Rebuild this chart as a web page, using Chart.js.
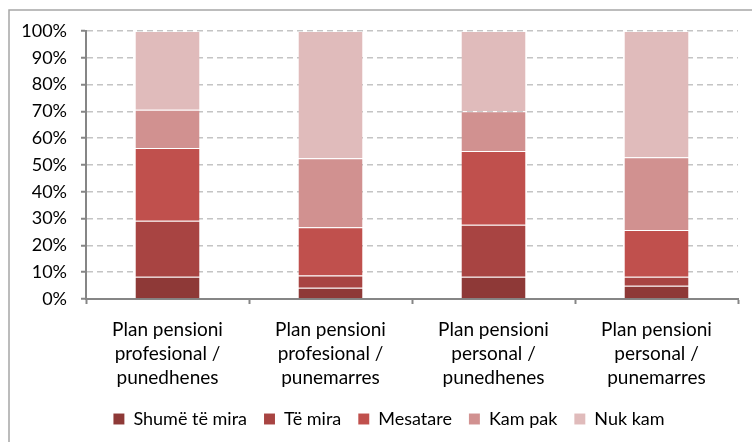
<!DOCTYPE html>
<html>
<head>
<meta charset="utf-8">
<script src="https://cdn.jsdelivr.net/npm/chart.js@4"></script>
<style>
  html, body { margin: 0; padding: 0; background: #fff; }
  #wrap { width: 752px; height: 442px; }
</style>
</head>
<body>
<div id="wrap"><canvas id="grafico" width="752" height="442"></canvas></div>
<script>
const categories = [
    ['Plan pensioni', 'profesional /', 'punedhenes'],
    ['Plan pensioni', 'profesional /', 'punemarres'],
    ['Plan pensioni', 'personal /', 'punedhenes'],
    ['Plan pensioni', 'personal /', 'punemarres']
];
const seriesNames = ['Shumë të mira', 'Të mira', 'Mesatare', 'Kam pak', 'Nuk kam'];
const shumeTeMira = [8.3, 4.2, 8.3, 4.9];
const teMira      = [20.9, 4.6, 19.4, 3.4];
const mesatare    = [27.1, 18.0, 27.5, 17.4];
const kamPak      = [14.3, 25.7, 14.9, 27.2];
const nukKam      = [29.4, 47.5, 29.9, 47.1];
const yTicks = [0, 10, 20, 30, 40, 50, 60, 70, 80, 90, 100];

const colores = ['#8e3937', '#a84442', '#c0504d', '#d19190', '#e0bbbb'];
const valores = [shumeTeMira, teMira, mesatare, kamPak, nukKam];

const FONT = 'Lato, "Open Sans", sans-serif';
const PAD_BOTTOM = 4;

// marco exterior (solo arriba e izquierda, como en el original)
const marco = {
    id: 'marco',
    beforeDraw(chart) {
        const c = chart.ctx;
        c.save();
        c.strokeStyle = '#a6a6a6';
        c.lineWidth = 1.5;
        c.beginPath();
        c.moveTo(9, chart.height + 5);
        c.lineTo(9, 10);
        c.lineTo(chart.width + 5, 10);
        c.stroke();
        c.restore();
    }
};

// la leyenda del original esta algo desplazada a la derecha
const moverLeyenda = {
    id: 'moverLeyenda',
    afterLayout(chart) {
        if (chart.legend) {
            chart.legend.left += 20;
            chart.legend.right += 20;
        }
    }
};

const ctx = document.getElementById('grafico').getContext('2d');
const myChart = new Chart(ctx, {
    type: 'bar',
    data: {
        labels: categories,
        datasets: seriesNames.map((name, i) => ({
            label: name,
            data: valores[i],
            backgroundColor: colores[i],
            borderColor: 'rgba(255,255,255,0.25)',
            borderWidth: { top: 1 },
            borderSkipped: false,
            barPercentage: 0.393,
            categoryPercentage: 1
        }))
    },
    options: {
        responsive: false,
        animation: false,
        layout: { padding: { top: 31, right: 14, left: 0, bottom: PAD_BOTTOM } },
        plugins: {
            legend: {
                position: 'bottom',
                labels: {
                    boxWidth: 11,
                    boxHeight: 11,
                    padding: 17,
                    color: '#000',
                    font: { family: FONT, size: 18 }
                }
            },
            tooltip: { enabled: false }
        },
        scales: {
            x: {
                stacked: true,
                grid: {
                    offset: true,
                    drawOnChartArea: false,
                    drawTicks: true,
                    tickLength: 5,
                    tickColor: '#868686',
                    tickWidth: 2
                },
                border: { color: '#868686', width: 2 },
                ticks: {
                    color: '#000',
                    padding: 14,
                    maxRotation: 0,
                    font: { family: FONT, size: 19, lineHeight: 1.26 }
                },
                afterFit(scale) {
                    const leg = scale.chart.legend ? scale.chart.legend.height : 0;
                    scale.height = 442 - PAD_BOTTOM - leg - 299;
                }
            },
            y: {
                stacked: true,
                min: 0,
                max: 100,
                afterBuildTicks(scale) {
                    scale.ticks = yTicks.map(v => ({ value: v }));
                },
                grid: {
                    color: '#c4c4c4',
                    lineWidth: 1.5,
                    drawTicks: true,
                    tickLength: 5,
                    tickColor: '#868686',
                    tickWidth: 2,
                    tickBorderDash: []
                },
                border: { color: '#868686', width: 2, dash: [6, 4] },
                ticks: {
                    color: '#000',
                    padding: 14,
                    font: { family: FONT, size: 18 },
                    callback: v => v + '%'
                },
                afterFit(scale) {
                    scale.width = 86;
                }
            }
        }
    },
    plugins: [marco, moverLeyenda]
});
</script>
</body>
</html>
